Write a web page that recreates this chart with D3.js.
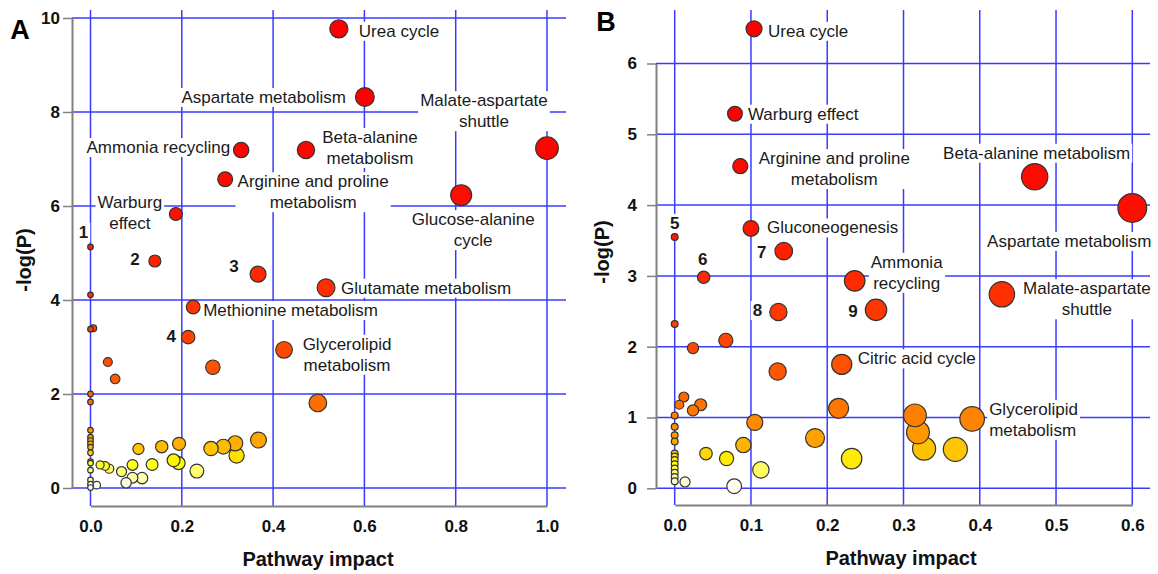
<!DOCTYPE html>
<html><head><meta charset="utf-8">
<script src="https://cdn.jsdelivr.net/npm/d3@7"></script>
<style>
body{margin:0;background:#fff}
svg{display:block;font-family:"Liberation Sans",Arial,sans-serif}
</style>
</head><body>
<svg id="c" width="1158" height="574"></svg>
<script>
// ---------- Panel A data ----------
const impactA = [0.544,0.601,1.0,0.330,0.472,0.295,0.812,0.187,0.0,0.141,0.367,0.516,0.225,0.214,0.424,0.268,0.498,
  0.0,0.0,0.006,0.038,0.054,0.0,0.0,0.0,0.0,0.0,0.0,0.0,0.0,0.0,0.0,0.0,0.0,0.0,0.0,
  0.0136,0.021,0.032,0.041,0.068,0.078,0.092,0.092,0.113,0.105,0.135,0.156,0.182,0.193,0.194,0.233,0.264,0.291,0.317,0.320,0.368];
const logpA = [9.77,8.32,7.23,7.19,7.19,6.57,6.23,5.83,5.13,4.83,4.55,4.26,3.85,3.21,2.94,2.57,1.81,
  4.11,3.38,3.40,2.68,2.32,2.00,1.83,1.23,1.08,1.01,0.94,0.87,0.75,0.56,0.53,0.38,0.17,0.08,0.01,
  0.06,0.49,0.47,0.41,0.35,0.11,0.49,0.22,0.21,0.83,0.50,0.88,0.59,0.53,0.94,0.36,0.84,0.88,0.95,0.69,1.02];
const namesA = ["Urea cycle","Aspartate metabolism","Malate-aspartate|shuttle","Ammonia recycling",
  "Beta-alanine|metabolism","Arginine and proline|metabolism","Glucose-alanine|cycle","Warburg|effect",
  "1","2","3","Glutamate metabolism","Methionine metabolism","4","Glycerolipid|metabolism"];
const xTicksA = [0,0.2,0.4,0.6,0.8,1.0];
const yTicksA = [0,2,4,6,8,10];

// ---------- Panel B data ----------
const impactB = [0.104,0.079,0.086,0.472,0.600,0.100,0.0,0.143,0.038,0.236,0.429,0.264,0.136,0.219,0.390,
  0.0,0.067,0.024,0.135,0.012,0.006,0.034,0.215,0.024,0.0,0.315,0.105,0.0,0.319,0.0,0.184,0.0,0.090,
  0.327,0.368,0.041,0.0,0.0,0.068,0.232,0.0,0.0,0.0,0.113,0.0,0.0,0.0,0.0135,0.078];
const logpB = [6.49,5.29,4.55,4.40,3.96,3.67,3.55,3.35,2.98,2.93,2.74,2.52,2.49,1.75,0.98,
  2.32,2.09,1.98,1.65,1.29,1.18,1.18,1.13,1.10,1.03,1.03,0.93,0.87,0.79,0.75,0.71,0.66,0.61,
  0.56,0.55,0.49,0.49,0.45,0.42,0.42,0.40,0.34,0.28,0.26,0.22,0.16,0.10,0.09,0.03];
const namesB = ["Urea cycle","Warburg effect","Arginine and proline|metabolism","Beta-alanine metabolism",
  "Aspartate metabolism","Gluconeogenesis","5","7","6","Ammonia|recycling","Malate-aspartate|shuttle",
  "9","8","Citric acid cycle","Glycerolipid|metabolism"];
const xTicksB = [0,0.1,0.2,0.3,0.4,0.5,0.6];
const yTicksB = [0,1,2,3,4,5,6];

// ---------- label placement (pixel offsets from point centre) ----------
const placeA = [[20,2,"start"],[-19,0,"end"],[-63,-48,"middle"],[-11,-3,"end"],[64,-13,"middle"],
  [88,2,"middle"],[12,24,"middle"],[-46,-12,"middle"],[-7,-15,"middle"],[-20,-2,"middle"],[-24,-8,"middle"],
  [15,0,"start"],[10,3,"start"],[-17,-1,"middle"],[63,-6,"middle"]];
const placeB = [[14,2,"start"],[13,0,"start"],[94,-8,"middle"],[2,-24,"middle"],[-63,33,"middle"],
  [16,-1,"start"],[0,-14,"middle"],[-22,1,"middle"],[-1,-18,"middle"],[52,-19,"middle"],[85,-6,"middle"],
  [-23,1,"middle"],[-21,-2,"middle"],[16,-6,"start"],[17,-10,"start"]];

const GRID = "#3a3aff", AXIS = "#808080";
const color = d3.scaleLinear()
  .domain([0,0.01,0.025,0.04,0.055,0.075,0.1,0.15,0.2,0.3,0.45,0.6,0.8,1])
  .range(["#ffffff","#fbfbe8","#ffffa0","#ffff60","#ffff00","#ffd800","#ffa800","#ff8400","#ff6600","#ff4800","#ff2a00","#ff1000","#ff0000","#ff0000"])
  .clamp(true);

const svg = d3.select("#c");

function panel(o){
  const g = svg.append("g");
  const x = d3.scaleLinear().domain(o.xDom).range(o.xRange);
  const y = d3.scaleLinear().domain(o.yDom).range(o.yRange);
  const r = d3.scaleSqrt().domain([0,o.xDom[1]]).range(o.rRange);
  const ymax = d3.max(o.logp);

  // grid
  const grid = g.append("g");
  grid.selectAll(".h").data(o.yTicks).join("line")
    .attr("x1",o.axisX).attr("x2",o.gridRight).attr("y1",d=>y(d)).attr("y2",d=>y(d))
    .attr("stroke",GRID).attr("stroke-width",1.5);
  grid.selectAll(".v").data(o.xTicks).join("line")
    .attr("x1",d=>x(d)).attr("x2",d=>x(d)).attr("y1",10).attr("y2",o.axisY)
    .attr("stroke",GRID).attr("stroke-width",1.5);

  // axes
  const ya = g.append("g").attr("transform",`translate(${o.axisX},0)`)
    .call(d3.axisLeft(y).tickValues(o.yTicks).tickFormat(d3.format("d")).tickSize(9).tickSizeOuter(0).tickPadding(o.yPad));
  const xa = g.append("g").attr("transform",`translate(0,${o.axisY})`)
    .call(d3.axisBottom(x).tickValues(o.xTicks).tickFormat(d3.format(".1f")).tickSize(0).tickSizeOuter(0).tickPadding(14));
  [ya,xa].forEach(a=>{
    a.select(".domain").attr("stroke",AXIS).attr("stroke-width",2);
    a.selectAll(".tick line").attr("stroke",AXIS).attr("stroke-width",1.5);
    a.selectAll("text").attr("font-family","Liberation Sans, Arial").attr("font-size",17)
      .attr("font-weight","bold").attr("fill","#111");
  });

  // titles
  g.append("text").attr("x",o.xTitleX).attr("y",o.axisY+60).attr("text-anchor","middle")
    .attr("font-size",20).attr("font-weight","bold").attr("fill","#111").text("Pathway impact");
  g.append("text").attr("transform",`translate(${o.yTitleX},${o.yTitleY}) rotate(-90)`)
    .attr("text-anchor","middle").attr("dy","0.35em")
    .attr("font-size",20).attr("font-weight","bold").attr("fill","#111").text("-log(P)");
  g.append("text").attr("x",o.letterX).attr("y",o.letterY).attr("text-anchor","middle").attr("dy","0.35em")
    .attr("font-size",27).attr("font-weight","bold").attr("fill","#000").text(o.letter);

  // label boxes + text
  const labLayer = g.append("g");
  const pts = o.impact.map((v,i)=>({x:v,y:o.logp[i],i}));
  o.names.forEach((nm,k)=>{
    const p = pts[k], pl = o.place[k];
    const px = x(p.x), py = y(p.y);
    const isNum = /^\d$/.test(nm);
    const lg = labLayer.append("g");
    const rect = lg.append("rect").attr("fill","#fff");
    const t = lg.append("text").attr("text-anchor",pl[2])
      .attr("font-size",17).attr("fill","#1a1a1a")
      .attr("font-weight",isNum?"bold":"normal");
    nm.split("|").forEach((ln,j)=>{
      t.append("tspan").attr("x",px+pl[0]).attr("y",py+pl[1]+j*21).attr("dy","0.35em").text(ln);
    });
    const bb = t.node().getBBox();
    rect.attr("x",bb.x-2).attr("y",bb.y).attr("width",bb.width+4).attr("height",bb.height);
  });

  // points
  const sorted = pts.slice().sort((a,b)=>r(b.x)-r(a.x));
  g.append("g").selectAll("circle").data(sorted).join("circle")
    .attr("cx",d=>x(d.x)).attr("cy",d=>y(d.y)).attr("r",d=>r(d.x)-0.6)
    .attr("fill",d=>color(d.y/ymax)).attr("stroke","#333").attr("stroke-width",1.2);
  labLayer.selectAll("text").raise();
}

panel({impact:impactA,logp:logpA,names:namesA,place:placeA,xTicks:xTicksA,yTicks:yTicksA,
  xDom:[0,1],yDom:[0,10],xRange:[90.5,547],yRange:[488,18],rRange:[3.4,11.9],
  axisX:72,axisY:506,gridRight:566,yPad:3,xTitleX:318,yTitleX:24,yTitleY:260,
  letter:"A",letterX:20,letterY:30});
panel({impact:impactB,logp:logpB,names:namesB,place:placeB,xTicks:xTicksB,yTicks:yTicksB,
  xDom:[0,0.6],yDom:[0,6],xRange:[674.7,1132.3],yRange:[488.3,63.5],rRange:[4,15],
  axisX:656,axisY:505,gridRight:1150,yPad:10,xTitleX:901,yTitleX:602,yTitleY:252,
  letter:"B",letterX:606,letterY:22});
</script>
</body></html>
